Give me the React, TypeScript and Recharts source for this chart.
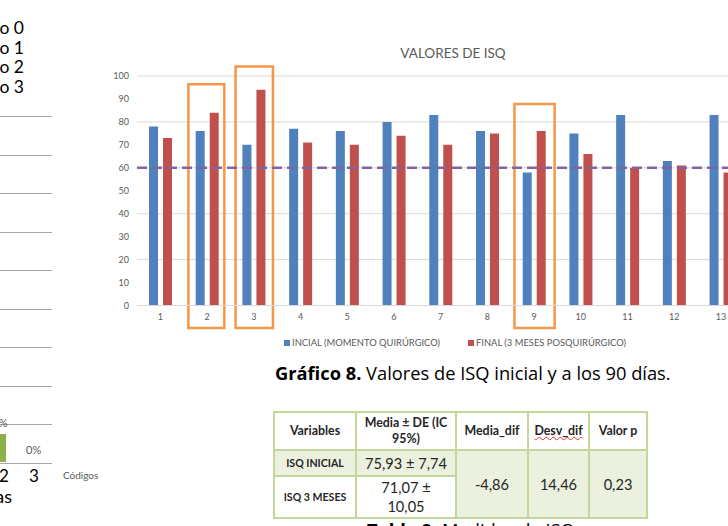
import React from 'react';
import { BarChart, Bar, XAxis, YAxis, CartesianGrid, ReferenceLine, ReferenceArea } from 'recharts';

// ISQ per patient (patient 14 is cut off at the right edge)
const patients = ['1', '2', '3', '4', '5', '6', '7', '8', '9', '10', '11', '12', '13', '14'];
const isqInicial = [78, 76, 70, 77, 76, 80, 83, 76, 58, 75, 83, 63, 83, 85];
const isqFinal = [73, 84, 94, 71, 70, 74, 70, 75, 76, 66, 60, 61, 58, 64];
const yTicks = [0, 10, 20, 30, 40, 50, 60, 70, 80, 90, 100];
const isqThreshold = 60;

const seriesNames = ['INCIAL (MOMENTO QUIRÚRGICO)', 'FINAL (3 MESES POSQUIRÚRGICO)'];
const seriesColors = ['#4f81bd', '#c0504d'];

// orange boxes around patients 2, 3 and 9, in axis units
const boxFrom = [1.6, 2.61, 8.58];
const boxTo = [2.37, 3.41, 9.44];
const boxTop = [96.4, 104.1, 87.8];
const boxBottom = -9.8;

// fragment of the previous chart on the left edge
const codigoLabels = ['Código 0', 'Código 1', 'Código 2', 'Código 3'];
const codigoTicks = ['2', '3'];

// table below
const tableHeader = ['Variables', 'Media ± DE (IC 95%)', 'Media_dif', 'Desv_dif', 'Valor p'];
const tableVariables = ['ISQ INICIAL', 'ISQ 3 MESES'];
const tableMeans = ['75,93 ± 7,74', '71,07 ± 10,05'];
const tableDiffs = ['-4,86', '14,46', '0,23'];

const data = patients.map((p, i) => ({
  patient: p,
  idx: i + 1,
  inicial: isqInicial[i],
  final: isqFinal[i],
}));

const FONT = 'Lato, "Open Sans", sans-serif';
const TEXT_FONT = '"Open Sans", Lato, sans-serif';
const GREEN_BORDER = '2px solid #c3d69b';
const GREEN_FILL = '#ebf1de';

function LeftFragment() {
  const lines = Array.from({ length: 10 }, (_, k) => 116 + k * 38.5);
  return (
    <>
      {codigoLabels.map((t, i) => (
        <div key={t} style={{ position: 'absolute', left: -80, top: 19 + i * 19.7, width: 104, textAlign: 'right', fontSize: 17.5, lineHeight: '17px', color: '#000' }}>
          {t}
        </div>
      ))}
      {lines.map((y) => (
        <div key={y} style={{ position: 'absolute', left: 0, top: y, width: 52, height: 1, background: '#a6a6a6' }} />
      ))}
      <div style={{ position: 'absolute', left: -14, top: 416, fontSize: 11, lineHeight: '13px', color: '#595959' }}>10%</div>
      <div style={{ position: 'absolute', left: 0, top: 434, width: 6, height: 28, background: '#8db04a' }} />
      <div style={{ position: 'absolute', left: 26, top: 443, fontSize: 11, lineHeight: '13px', color: '#595959' }}>0%</div>
      {codigoTicks.map((t, i) => (
        <div key={t} style={{ position: 'absolute', left: -1 + i * 30, top: 466, fontSize: 17, lineHeight: '20px', color: '#000' }}>{t}</div>
      ))}
      <div style={{ position: 'absolute', left: 63, top: 469, fontSize: 10, lineHeight: '12px', color: '#595959' }}>Códigos</div>
      <div style={{ position: 'absolute', left: -90, top: 486, width: 102, textAlign: 'right', fontSize: 18, lineHeight: '20px', color: '#000' }}>Frecuencias</div>
    </>
  );
}

function IsqChart() {
  return (
    <div style={{ position: 'absolute', left: 0, top: 0 }}>
      <BarChart
        width={800}
        height={360}
        data={data}
        barGap={5}
        margin={{ top: 76, right: 9, bottom: 24.5, left: 97 }}
      >
        <CartesianGrid vertical={false} stroke="#d9d9d9" />
        <XAxis
          dataKey="patient"
          height={30}
          tickLine={false}
          axisLine={{ stroke: '#d9d9d9' }}
          tick={{ fontSize: 9, fill: '#595959', fontFamily: FONT }}
          interval={0}
        />
        <XAxis xAxisId="box" type="number" dataKey="idx" domain={[0.5, 14.5]} allowDataOverflow hide />
        <YAxis
          domain={[0, 100]}
          ticks={yTicks}
          width={40}
          axisLine={false}
          tickLine={false}
          tick={{ fontSize: 9, fill: '#595959', fontFamily: FONT }}
        />
        <Bar dataKey="inicial" name={seriesNames[0]} fill={seriesColors[0]} barSize={9} isAnimationActive={false} />
        <Bar dataKey="final" name={seriesNames[1]} fill={seriesColors[1]} barSize={9} isAnimationActive={false} />
        <ReferenceLine y={isqThreshold} stroke="#8064a2" strokeWidth={2.5} strokeDasharray="10 5" />
        {boxFrom.map((x1, i) => (
          <ReferenceArea
            key={i}
            xAxisId="box"
            x1={x1}
            x2={boxTo[i]}
            y1={boxBottom}
            y2={boxTop[i]}
            ifOverflow="visible"
            fill="none"
            fillOpacity={0}
            stroke="#f79646"
            strokeWidth={2.5}
          />
        ))}
      </BarChart>
    </div>
  );
}

export default function App() {
  const legendLeft = [284, 468];
  const cell: React.CSSProperties = { border: GREEN_BORDER, textAlign: 'center', verticalAlign: 'middle', padding: '0 2px' };
  return (
    <div style={{ position: 'absolute', left: 0, top: 0, width: 728, height: 526, overflow: 'hidden', background: '#fff', fontFamily: FONT }}>
      <LeftFragment />
      <IsqChart />
      <div style={{ position: 'absolute', left: 353, top: 45, width: 200, textAlign: 'center', fontSize: 13.5, lineHeight: '16px', color: '#595959' }}>
        VALORES DE ISQ
      </div>
      {seriesNames.map((name, i) => (
        <div key={name} style={{ position: 'absolute', left: legendLeft[i], top: 337, display: 'flex', alignItems: 'center', fontSize: 9.4, lineHeight: '12px', color: '#595959', whiteSpace: 'nowrap' }}>
          <span style={{ display: 'inline-block', width: 6, height: 6, background: seriesColors[i], marginRight: 2 }} />
          {name}
        </div>
      ))}
      <div style={{ position: 'absolute', left: 275, top: 362, fontFamily: TEXT_FONT, fontSize: 18.3, lineHeight: '21px', color: '#000', whiteSpace: 'nowrap' }}>
        <b>Gráfico 8.</b> Valores de ISQ inicial y a los 90 días.
      </div>
      <table style={{ position: 'absolute', left: 273, top: 411, borderCollapse: 'collapse', tableLayout: 'fixed', width: 373, color: '#262626' }}>
        <colgroup>
          {[82, 100, 72, 61, 58].map((w, i) => <col key={i} style={{ width: w }} />)}
        </colgroup>
        <tbody>
          <tr style={{ height: 38 }}>
            {tableHeader.map((h) => (
              <td key={h} style={{ ...cell, fontWeight: 700, fontSize: 12.4, lineHeight: '16px' }}>
                {h === 'Desv_dif' ? (
                  <span style={{ textDecoration: 'underline wavy #e03030', textDecorationThickness: 1 }}>{h}</span>
                ) : h === 'Media ± DE (IC 95%)' ? (
                  <>Media ± DE (IC<br />95%)</>
                ) : h}
              </td>
            ))}
          </tr>
          <tr style={{ height: 26 }}>
            <td style={{ ...cell, background: GREEN_FILL, fontWeight: 700, fontSize: 10.6 }}>{tableVariables[0]}</td>
            <td style={{ ...cell, background: GREEN_FILL, fontSize: 14.6 }}>{tableMeans[0]}</td>
            {tableDiffs.map((d) => (
              <td key={d} rowSpan={2} style={{ ...cell, background: GREEN_FILL, fontSize: 14.6 }}>{d}</td>
            ))}
          </tr>
          <tr style={{ height: 42 }}>
            <td style={{ ...cell, fontWeight: 700, fontSize: 10.6 }}>{tableVariables[1]}</td>
            <td style={{ ...cell, fontSize: 14.6, lineHeight: '19px' }}>
              {tableMeans[1].split(' ± ')[0]} ±<br />{tableMeans[1].split(' ± ')[1]}
            </td>
          </tr>
        </tbody>
      </table>
      <div style={{ position: 'absolute', left: 367, top: 519, fontFamily: TEXT_FONT, fontSize: 18.3, lineHeight: '21px', color: '#000', whiteSpace: 'nowrap' }}>
        <b>Tabla 9.</b> Medidas de ISQ
      </div>
    </div>
  );
}
